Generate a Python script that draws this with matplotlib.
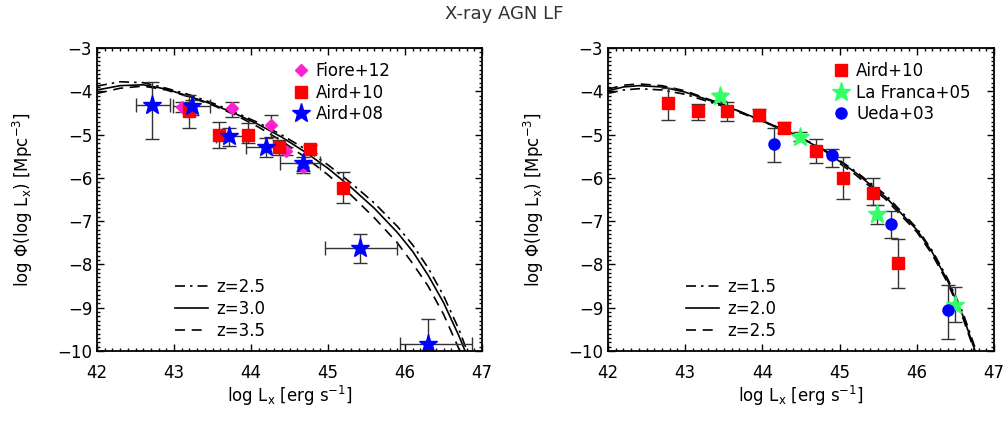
import numpy as np
import matplotlib.pyplot as plt
from matplotlib.lines import Line2D
from matplotlib.ticker import MultipleLocator

# ---- model curves, left panel (z=2.5, 3.0, 3.5) ----
lx_l = [42.0, 42.3, 42.6, 42.9, 43.2, 43.5, 43.8, 44.1, 44.4, 44.7, 45.0, 45.3, 45.6, 45.9, 46.1, 46.3, 46.5, 46.7, 46.85]
phi_z25 = [-3.88, -3.78, -3.80, -3.93, -4.08, -4.27, -4.49, -4.73, -5.01, -5.33, -5.70, -6.12, -6.58, -7.12, -7.55, -8.08, -8.72, -9.50, -10.2]
phi_z30 = [-3.97, -3.87, -3.85, -3.95, -4.12, -4.30, -4.52, -4.77, -5.06, -5.40, -5.78, -6.22, -6.70, -7.26, -7.70, -8.25, -8.88, -9.65, -10.3]
phi_z35 = [-4.05, -3.93, -3.88, -3.97, -4.13, -4.32, -4.55, -4.83, -5.15, -5.52, -5.93, -6.40, -6.92, -7.50, -7.98, -8.50, -9.15, -9.95, -10.5]

# ---- model curves, right panel (z=1.5, 2.0, 2.5) ----
lx_r = [42.0, 42.2, 42.4, 42.7, 43.0, 43.5, 44.0, 44.4, 44.8, 45.2, 45.6, 46.0, 46.2, 46.4, 46.6, 46.75, 46.85]
phi_z15 = [-4.05, -3.97, -3.94, -3.97, -4.07, -4.35, -4.69, -4.98, -5.35, -5.84, -6.40, -7.16, -7.68, -8.33, -9.13, -9.90, -10.4]
phi_z20 = [-3.99, -3.90, -3.87, -3.90, -4.02, -4.32, -4.68, -4.98, -5.37, -5.87, -6.45, -7.20, -7.72, -8.38, -9.20, -9.97, -10.5]
phi_z25r = [-3.95, -3.86, -3.83, -3.87, -3.99, -4.31, -4.69, -5.01, -5.41, -5.92, -6.50, -7.25, -7.77, -8.43, -9.25, -10.02, -10.6]

# ---- data points, left panel ----
fiore_x = [43.11, 43.75, 44.26, 44.46, 44.68]
fiore_y = [-4.36, -4.39, -4.79, -5.38, -5.76]
fiore_hi = [-4.25, -4.24, -4.55, -5.28, -5.65]
fiore_lo = [-4.48, -4.59, -5.05, -5.48, -5.85]

aird10L_x = [43.20, 43.58, 43.96, 44.36, 44.77, 45.19]
aird10L_y = [-4.45, -5.01, -5.01, -5.28, -5.33, -6.24]
aird10L_hi = [-4.08, -4.70, -4.73, -5.12, -5.24, -5.86]
aird10L_lo = [-4.85, -5.32, -5.19, -5.47, -5.43, -6.59]

aird08_x = [42.71, 43.23, 43.72, 44.19, 44.67, 45.42, 46.30]
aird08_y = [-4.32, -4.35, -5.03, -5.29, -5.65, -7.63, -9.84]
aird08_xlo = [42.51, 42.99, 43.55, 43.94, 44.38, 44.96, 45.93]
aird08_xhi = [42.95, 43.47, 43.90, 44.40, 44.90, 45.89, 46.87]
aird08_hi = [-3.78, -4.20, -4.85, -5.08, -5.51, -7.30, -9.27]
aird08_lo = [-5.10, -4.55, -5.26, -5.52, -5.89, -7.97, -10.5]

# ---- data points, right panel ----
aird10R_x = [42.78, 43.16, 43.54, 43.95, 44.28, 44.70, 45.05, 45.43, 45.76]
aird10R_y = [-4.28, -4.45, -4.45, -4.55, -4.84, -5.39, -6.01, -6.36, -7.97]
aird10R_hi = [-3.93, -4.29, -4.24, -4.41, -4.72, -5.10, -5.51, -6.01, -7.42]
aird10R_lo = [-4.66, -4.67, -4.69, -4.68, -4.97, -5.66, -6.49, -6.63, -8.55]

lafr_x = [43.45, 44.49, 45.49, 46.50]
lafr_y = [-4.12, -5.05, -6.84, -8.94]
lafr_hi = [-4.03, -4.95, -6.63, -8.53]
lafr_lo = [-4.22, -5.15, -7.06, -9.32]

ueda_x = [44.15, 44.90, 45.66, 46.40]
ueda_y = [-5.22, -5.47, -7.07, -9.05]
ueda_hi = [-4.85, -5.33, -6.76, -8.47]
ueda_lo = [-5.63, -5.74, -7.38, -9.73]

plt.rcParams['font.family'] = ['DejaVu Sans']
plt.rcParams['mathtext.fontset'] = 'dejavusans'
fs = 12
ecol = '#333333'

fig = plt.figure(figsize=(10.08, 4.21), dpi=100)
axL = fig.add_axes([97/1008, 70/421, 385/1008, 303/421])
axR = fig.add_axes([608/1008, 70/421, 386/1008, 303/421])
fig.text(0.5, 1 - 14/421, "X-ray AGN LF", ha='center', va='center', fontsize=13, color='#333333')


def errs(y, hi, lo):
    y = np.array(y); return [y - np.array(lo), np.array(hi) - y]


def style(ax):
    ax.set_xlim(42, 47)
    ax.set_ylim(-10, -3)
    ax.xaxis.set_major_locator(MultipleLocator(1))
    ax.xaxis.set_minor_locator(MultipleLocator(0.1))
    ax.yaxis.set_major_locator(MultipleLocator(1))
    ax.yaxis.set_minor_locator(MultipleLocator(0.1))
    ax.tick_params(which='both', direction='in', top=True, right=True, labelsize=fs, width=1)
    ax.tick_params(which='major', length=5)
    ax.tick_params(which='minor', length=2.5)
    ax.tick_params(axis='x', pad=9)
    for s in ax.spines.values():
        s.set_linewidth(1.3)
    ax.set_xlabel(r"log L$_\mathrm{x}$ [erg s$^{-1}$]", fontsize=fs, labelpad=2)
    ax.set_ylabel(r"log $\Phi$(log L$_\mathrm{x}$) [Mpc$^{-3}$]", fontsize=fs, labelpad=16)


# left panel
axL.plot(lx_l, phi_z25, color='k', lw=1.2, ls=(0, (6, 3, 1.5, 3)), label='z=2.5')
axL.plot(lx_l, phi_z30, color='k', lw=1.2, ls='-', label='z=3.0')
axL.plot(lx_l, phi_z35, color='k', lw=1.2, ls=(0, (6, 4)), label='z=3.5')
axL.errorbar(fiore_x, fiore_y, yerr=errs(fiore_y, fiore_hi, fiore_lo), fmt='D', color='#ff22cc',
             ms=6, ecolor=ecol, elinewidth=1, capsize=5)
axL.errorbar(aird10L_x, aird10L_y, yerr=errs(aird10L_y, aird10L_hi, aird10L_lo), fmt='s', color='red',
             ms=9, ecolor=ecol, elinewidth=1, capsize=5)
axL.errorbar(aird08_x, aird08_y, yerr=errs(aird08_y, aird08_hi, aird08_lo),
             xerr=errs(aird08_x, aird08_xhi, aird08_xlo), fmt='*', color='blue',
             ms=14, ecolor=ecol, elinewidth=1, capsize=5)
style(axL)

h_data = [Line2D([], [], ls='none', marker='D', color='#ff22cc', ms=6),
          Line2D([], [], ls='none', marker='s', color='red', ms=9),
          Line2D([], [], ls='none', marker='*', color='blue', ms=14)]
legd = axL.legend(h_data, ['Fiore+12', 'Aird+10', 'Aird+08'], loc='upper left', bbox_to_anchor=(0.49, 0.975),
                  frameon=False, fontsize=fs, handlelength=1.0, handletextpad=0.4, labelspacing=0.2, borderaxespad=0)
axL.add_artist(legd)
h_mod = axL.get_lines()[:3]
axL.legend(h_mod, ['z=2.5', 'z=3.0', 'z=3.5'], loc='lower left', bbox_to_anchor=(0.185, 0.014), frameon=False,
           fontsize=fs, handlelength=2.0, handletextpad=0.5, labelspacing=0.25, borderaxespad=0)

# right panel
axR.plot(lx_r, phi_z15, color='k', lw=1.2, ls=(0, (6, 3, 1.5, 3)), label='z=1.5')
axR.plot(lx_r, phi_z20, color='k', lw=1.2, ls='-', label='z=2.0')
axR.plot(lx_r, phi_z25r, color='k', lw=1.2, ls=(0, (6, 4)), label='z=2.5')
axR.errorbar(aird10R_x, aird10R_y, yerr=errs(aird10R_y, aird10R_hi, aird10R_lo), fmt='s', color='red',
             ms=9, ecolor=ecol, elinewidth=1, capsize=5)
axR.errorbar(lafr_x, lafr_y, yerr=errs(lafr_y, lafr_hi, lafr_lo), fmt='*', color='#33ff66',
             ms=14, ecolor=ecol, elinewidth=1, capsize=5)
axR.errorbar(ueda_x, ueda_y, yerr=errs(ueda_y, ueda_hi, ueda_lo), fmt='o', color='blue',
             ms=8, ecolor=ecol, elinewidth=1, capsize=5)
style(axR)

h_data = [Line2D([], [], ls='none', marker='s', color='red', ms=9),
          Line2D([], [], ls='none', marker='*', color='#33ff66', ms=14),
          Line2D([], [], ls='none', marker='o', color='blue', ms=8)]
legd = axR.legend(h_data, ['Aird+10', 'La Franca+05', 'Ueda+03'], loc='upper left', bbox_to_anchor=(0.565, 0.975),
                  frameon=False, fontsize=fs, handlelength=1.0, handletextpad=0.4, labelspacing=0.2, borderaxespad=0)
axR.add_artist(legd)
h_mod = axR.get_lines()[:3]
axR.legend(h_mod, ['z=1.5', 'z=2.0', 'z=2.5'], loc='lower left', bbox_to_anchor=(0.185, 0.014), frameon=False,
           fontsize=fs, handlelength=2.0, handletextpad=0.5, labelspacing=0.25, borderaxespad=0)

fig.savefig('out.png', dpi=100)
